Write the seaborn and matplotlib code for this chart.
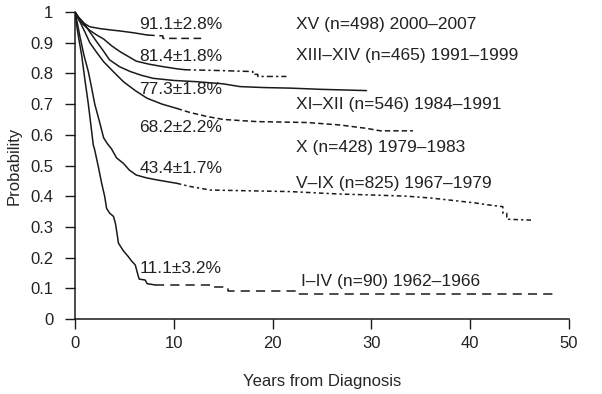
import numpy as np
import pandas as pd
import seaborn as sns
import matplotlib.pyplot as plt

# Kaplan-Meier style curves (years, probability)
# solid part then dashed part (few patients left)
xv_t = [0, 0.3, 0.8, 1.5, 2.5, 3.5, 4.6, 6.0, 7.3]
xv_p = [1.0, 0.985, 0.965, 0.952, 0.946, 0.942, 0.938, 0.932, 0.925]
xv_dt = [7.3, 8.9, 8.9, 13.0]
xv_dp = [0.925, 0.922, 0.914, 0.914]

x1314_t = [0, 0.3, 0.8, 1.5, 2.2, 2.9, 3.7, 4.6, 5.4, 6.2, 7.5, 8.9, 10.3, 11.1]
x1314_p = [1.0, 0.985, 0.96, 0.94, 0.925, 0.912, 0.89, 0.87, 0.855, 0.84, 0.83, 0.822, 0.815, 0.812]
x1314_dt = [11.1, 15.0, 18.0, 18.0, 18.5, 18.5, 21.4]
x1314_dp = [0.812, 0.809, 0.806, 0.797, 0.797, 0.79, 0.79]

x1112_t = [0, 0.3, 0.8, 1.5, 2.2, 2.9, 3.5, 4.5, 5.6, 6.7, 7.9, 10.0, 12.3, 15.0, 16.7, 19.0, 21.8, 25.0, 29.5]
x1112_p = [1.0, 0.985, 0.968, 0.935, 0.903, 0.872, 0.844, 0.822, 0.806, 0.794, 0.784, 0.777, 0.773, 0.766, 0.757, 0.754, 0.752, 0.748, 0.744]

x10_t = [0, 0.2, 0.5, 1.0, 1.5, 2.2, 2.9, 3.9, 4.9, 6.1, 7.3, 8.8, 10.3]
x10_p = [1.0, 0.985, 0.968, 0.935, 0.90, 0.868, 0.838, 0.805, 0.773, 0.744, 0.719, 0.700, 0.686]
x10_dt = [10.3, 11.6, 13.3, 15.0, 18.4, 23.5, 26.8, 29.5, 30.9, 34.2]
x10_dp = [0.686, 0.673, 0.66, 0.65, 0.643, 0.64, 0.632, 0.621, 0.613, 0.613]

v9_t = [0, 0.2, 0.5, 0.9, 1.35, 1.7, 2.0, 2.5, 2.9, 3.3, 3.7, 4.2, 4.9, 5.5, 6.2, 7.2, 8.3, 10.3]
v9_p = [1.0, 0.97, 0.92, 0.86, 0.806, 0.75, 0.70, 0.64, 0.59, 0.57, 0.554, 0.525, 0.507, 0.485, 0.469, 0.46, 0.453, 0.442]
v9_dt = [10.3, 11.6, 13.7, 17.0, 21.8, 26.8, 30.0, 33.6, 36.0, 38.6, 40.5, 42.0, 43.3, 43.3, 43.7, 43.7, 46.2]
v9_dp = [0.442, 0.432, 0.42, 0.418, 0.415, 0.407, 0.404, 0.40, 0.394, 0.385, 0.378, 0.371, 0.366, 0.345, 0.345, 0.325, 0.322]

i4_t = [0, 0.2, 0.4, 0.67, 1.0, 1.35, 1.85, 2.0, 2.2, 2.4, 2.7, 3.0, 3.2, 3.5, 3.9, 4.1, 4.2, 4.4, 4.9, 5.4, 5.7, 6.1, 6.4, 6.5, 7.1, 7.3, 8.1]
i4_p = [1.0, 0.95, 0.91, 0.86, 0.78, 0.70, 0.567, 0.55, 0.52, 0.49, 0.442, 0.40, 0.36, 0.345, 0.334, 0.31, 0.29, 0.247, 0.222, 0.203, 0.19, 0.176, 0.14, 0.13, 0.127, 0.115, 0.111]
i4_dt = [8.1, 14.0, 15.5, 22.4, 48.5]
i4_dp = [0.111, 0.103, 0.092, 0.081, 0.081]

pct_labels = ['91.1±2.8%', '81.4±1.8%', '77.3±1.8%', '68.2±2.2%', '43.4±1.7%', '11.1±3.2%']
pct_y = [0.958, 0.854, 0.749, 0.624, 0.49, 0.166]
grp_labels = ['XV (n=498) 2000–2007', 'XIII–XIV (n=465) 1991–1999', 'XI–XII (n=546) 1984–1991',
              'X (n=428) 1979–1983', 'V–IX (n=825) 1967–1979', 'I–IV (n=90) 1962–1966']
grp_y = [0.958, 0.857, 0.699, 0.56, 0.441, 0.122]
grp_x = [22.4, 22.4, 22.4, 22.4, 22.4, 22.9]

yticks = [0, 0.1, 0.2, 0.3, 0.4, 0.5, 0.6, 0.7, 0.8, 0.9, 1]
ytick_labels = ['0', '0.1', '0.2', '0.3', '0.4', '0.5', '0.6', '0.7', '0.8', '0.9', '1']
xticks = [0, 10, 20, 30, 40, 50]

sns.set_style('ticks')
plt.rcParams['font.family'] = ['Liberation Sans', 'DejaVu Sans']
plt.rcParams['text.color'] = '#222222'

fig = plt.figure(figsize=(6.02, 3.94), dpi=100)
ax = fig.add_axes([75/602, 1 - 319/394, 494/602, 307/394])

ink = '#1a1a1a'
lw = 1.1
segs = [
    (xv_t, xv_p, '-', 'default'), (xv_dt, xv_dp, (0, (5, 3)), 'default'),
    (x1314_t, x1314_p, '-', 'default'), (x1314_dt, x1314_dp, (0, (4, 2, 1.5, 2)), 'default'),
    (x1112_t, x1112_p, '-', 'default'),
    (x10_t, x10_p, '-', 'default'), (x10_dt, x10_dp, (0, (3.5, 2)), 'default'),
    (v9_t, v9_p, '-', 'default'), (v9_dt, v9_dp, (0, (3, 2, 1.5, 2)), 'default'),
    (i4_t, i4_p, '-', 'default'), (i4_dt, i4_dp, (0, (6, 4)), 'steps-post'),
]
for t, p, ls, ds in segs:
    df = pd.DataFrame({'t': t, 'p': p})
    sns.lineplot(data=df, x='t', y='p', ax=ax, color=ink, lw=lw, linestyle=ls,
                 drawstyle=ds, estimator=None, sort=False)

for lab, y in zip(pct_labels, pct_y):
    ax.text(6.5, y, lab, fontsize=12.5, va='center', ha='left')
for lab, x, y in zip(grp_labels, grp_x, grp_y):
    ax.text(x, y, lab, fontsize=12.5, va='center', ha='left')

ax.set_xlim(0, 50)
ax.set_ylim(0, 1)
ax.set_xticks(xticks)
ax.set_xticklabels([str(v) for v in xticks])
ax.set_yticks(yticks)
ax.set_yticklabels(ytick_labels)
ax.tick_params(axis='both', length=7.5, width=1, color=ink, labelsize=12, labelcolor='#222222', direction='out')
ax.tick_params(axis='y', pad=8)
ax.tick_params(axis='x', pad=5)
for s in ['left', 'bottom']:
    ax.spines[s].set_color(ink)
    ax.spines[s].set_linewidth(1.1)
sns.despine(ax=ax)
ax.set_xlabel('Years from Diagnosis', fontsize=12, labelpad=16)
ax.set_ylabel('Probability', fontsize=12, labelpad=6)

fig.savefig('out.png', dpi=100)
